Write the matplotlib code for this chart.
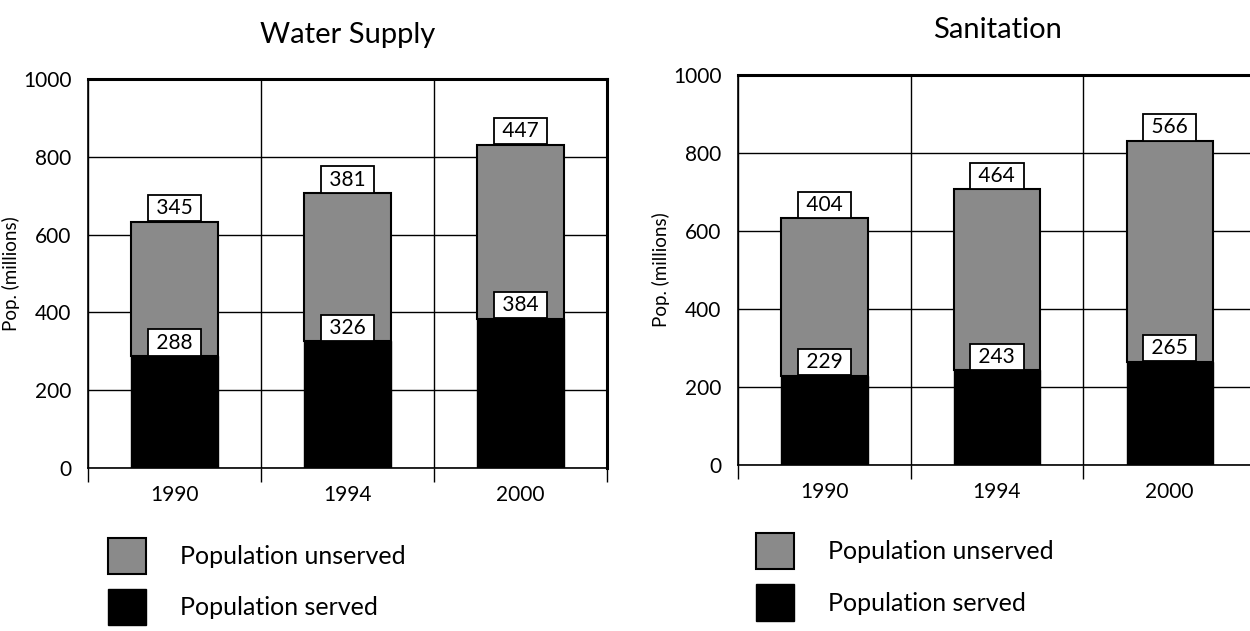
import numpy as np
import matplotlib
matplotlib.use("Agg")
import matplotlib.pyplot as plt

plt.rcParams['font.family'] = ['Lato', 'DejaVu Sans']

years = ["1990", "1994", "2000"]
water_served = [288, 326, 384]
water_unserved = [345, 381, 447]
sanit_served = [229, 243, 265]
sanit_unserved = [404, 464, 566]

GRAY = "#8a8a8a"

fig = plt.figure(figsize=(12.5, 6.31), dpi=100)
ax1 = fig.add_axes([0.0704, 0.2583, 0.4152, 0.6165])
ax2 = fig.add_axes([0.5904, 0.2631, 0.4144, 0.6180])


def draw_panel(ax, title, served, unserved, title_y):
  x = np.arange(len(years))
  b_served = ax.bar(x, served, width=0.5, color="black", edgecolor="black",
                    linewidth=1.0, zorder=3, label="Population served")
  b_unserved = ax.bar(x, unserved, width=0.5, bottom=served, color=GRAY,
                      edgecolor="black", linewidth=1.5, zorder=3,
                      label="Population unserved")
  box = dict(boxstyle="square,pad=0.15", facecolor="white", edgecolor="black", linewidth=1.3)
  ax.bar_label(b_served, labels=[f" {v} " for v in served], padding=2.5,
               fontsize=15, bbox=box, zorder=5)
  ax.bar_label(b_unserved, labels=[f" {v} " for v in unserved], padding=2.5,
               fontsize=15, bbox=box, zorder=5)

  ax.set_xlim(-0.5, len(years) - 0.5)
  ax.set_ylim(0, 1000)
  ax.set_yticks(np.arange(0, 1001, 200))
  ax.set_xticks(x)
  ax.set_xticklabels(years)
  ax.set_xticks(np.arange(-0.5, len(years), 1.0), minor=True)
  ax.tick_params(axis="x", which="major", length=0, pad=12, labelsize=15)
  ax.tick_params(axis="x", which="minor", length=10, width=1.0, direction="out")
  ax.tick_params(axis="y", length=0, pad=12, labelsize=15)
  ax.grid(True, axis="y", which="major", color="black", linewidth=1.0, zorder=0)
  ax.grid(True, axis="x", which="minor", color="black", linewidth=1.0, zorder=0)
  ax.set_axisbelow(True)
  ax.set_ylabel("Pop. (millions)", fontsize=13.5, labelpad=2)
  for side, lw in [("left", 1.2), ("bottom", 1.2), ("top", 2.2), ("right", 2.2)]:
    ax.spines[side].set_linewidth(lw)
  fig.text(ax.get_position().x0 + ax.get_position().width / 2, title_y, title,
           ha="center", va="center", fontsize=21)
  return b_unserved, b_served


h1 = draw_panel(ax1, "Water Supply", water_served, water_unserved, 0.945)
h2 = draw_panel(ax2, "Sanitation", sanit_served, sanit_unserved, 0.952)

for h, anchor in [(h1, (0.0864, 0.148)), (h2, (0.6048, 0.155))]:
  fig.legend(handles=list(h), loc="upper left", bbox_to_anchor=anchor,
             frameon=False, fontsize=18, handlelength=1.5, handleheight=1.85,
             handletextpad=1.4, labelspacing=0.6, borderpad=0, borderaxespad=0)

fig.savefig("out.png", dpi=100)
